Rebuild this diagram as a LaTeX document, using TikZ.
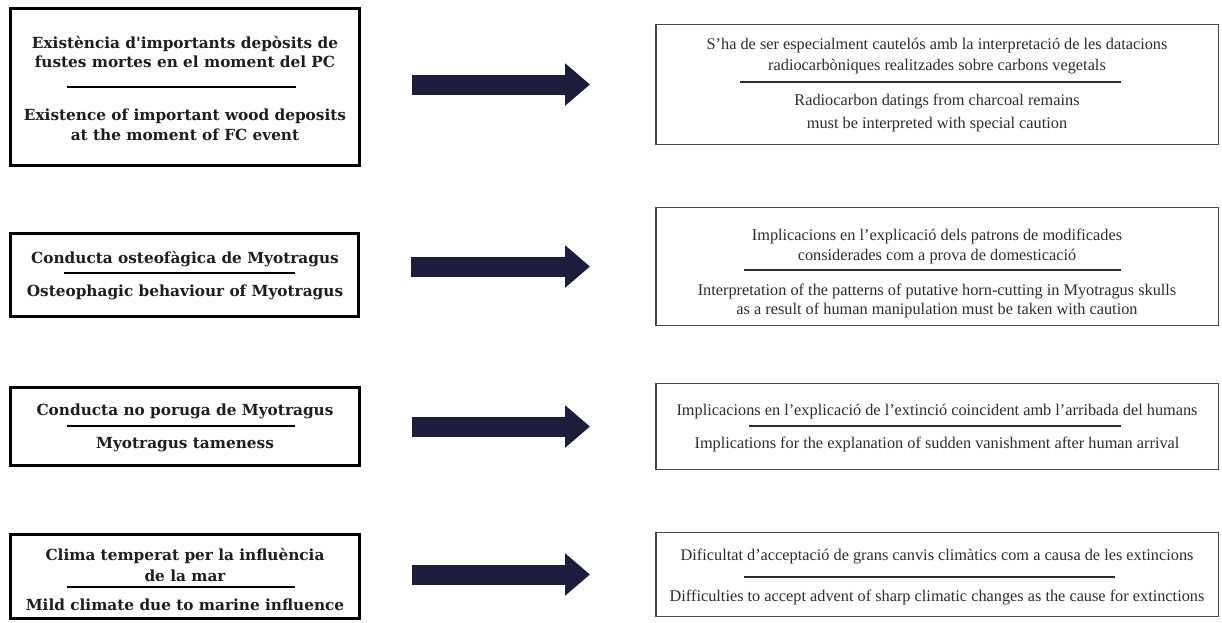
\documentclass[tikz,border=0pt]{standalone}
\usepackage{fontspec}
\setmainfont{Liberation Serif}
\newfontfamily\leftfont{DejaVu Serif}
\usetikzlibrary{arrows.meta}
\definecolor{arrowc}{RGB}{28,28,60}
\definecolor{ltext}{RGB}{30,30,30}
\definecolor{rtext}{RGB}{45,45,45}
\definecolor{rborder}{RGB}{70,70,70}
\tikzset{
  lbox/.style={draw=black, line width=3pt, rectangle, inner sep=0pt},
  rbox/.style={draw=rborder, line width=1.5pt, rectangle, inner sep=0pt},
  ltxt/.style={anchor=base, inner sep=0pt, text=ltext, font=\leftfont\bfseries\fontsize{15.3}{18}\selectfont},
  rtxt/.style={anchor=base, inner sep=0pt, text=rtext, font=\fontsize{16.3}{19}\selectfont},
  lrule/.style={line width=2.6pt, black},
  rrule/.style={line width=1.2pt, rtext},
  bigarrow/.style={draw=arrowc, line width=20pt, -{Triangle[width=41pt,length=25pt,fill=arrowc]}, shorten <=51pt, shorten >=65pt}
}
\begin{document}
\begin{tikzpicture}[x=1pt,y=-1pt]
\useasboundingbox[fill=white] (0,0) rectangle (1222,622);
% left boxes
\node[lbox, minimum width=349pt, minimum height=157pt] (L1) at (185,87) {};
\node[lbox, minimum width=348pt, minimum height=83pt] (L2) at (184.5,275) {};
\node[lbox, minimum width=349pt, minimum height=78pt] (L3) at (185,426.5) {};
\node[lbox, minimum width=349pt, minimum height=84pt] (L4) at (185,576.5) {};
% right boxes
\node[rbox, minimum width=562.5pt, minimum height=120pt] (R1) at (937,84.5) {};
\node[rbox, minimum width=562.5pt, minimum height=118pt] (R2) at (937,266.5) {};
\node[rbox, minimum width=562.5pt, minimum height=86pt] (R3) at (937,426.5) {};
\node[rbox, minimum width=562.5pt, minimum height=84pt] (R4) at (937,574.5) {};
% left texts
\node[ltxt] (L1a) at (185,48) {Existència d'importants depòsits de};
\node[ltxt] (L1b) at (185,67) {fustes mortes en el moment del PC};
\node[ltxt] (L1c) at (185,120) {Existence of important wood deposits};
\node[ltxt] (L1d) at (185,140) {at the moment of FC event};
\draw[lrule] (67,87) -- (296,87);
\node[ltxt] (L2a) at (185,263) {Conducta osteofàgica de Myotragus};
\node[ltxt] (L2b) at (185,296) {Osteophagic behaviour of Myotragus};
\draw[lrule] (64,273) -- (295,273);
\node[ltxt] (L3a) at (185,415) {Conducta no poruga de Myotragus};
\node[ltxt] (L3b) at (185,448) {Myotragus tameness};
\draw[lrule] (67,426) -- (295,426);
\node[ltxt] (L4a) at (185,560) {Clima temperat per la influència};
\node[ltxt] (L4b) at (185,581) {de la mar};
\node[ltxt] (L4c) at (185,610) {Mild climate due to marine influence};
\draw[lrule] (67,587) -- (295,587);
% right texts
\node[rtxt] (R1a) at (937,49) {S'ha de ser especialment cautelós amb la interpretació de les datacions};
\node[rtxt] (R1b) at (937,70) {radiocarbòniques realitzades sobre carbons vegetals};
\node[rtxt] (R1c) at (937,105) {Radiocarbon datings from charcoal remains};
\node[rtxt] (R1d) at (937,128) {must be interpreted with special caution};
\draw[rrule] (740,82) -- (1121,82);
\node[rtxt] (R2a) at (937,240) {Implicacions en l'explicació dels patrons de modificades};
\node[rtxt] (R2b) at (937,260) {considerades com a prova de domesticació};
\node[rtxt] (R2c) at (937,295) {Interpretation of the patterns of putative horn-cutting in Myotragus skulls};
\node[rtxt] (R2d) at (937,314) {as a result of human manipulation must be taken with caution};
\draw[rrule] (744,270) -- (1121,270);
\node[rtxt] (R3a) at (937,415) {Implicacions en l'explicació de l'extinció coincident amb l'arribada del humans};
\node[rtxt] (R3b) at (937,448) {Implications for the explanation of sudden vanishment after human arrival};
\draw[rrule] (749,426) -- (1121,426);
\node[rtxt] (R4a) at (937,560) {Dificultat d'acceptació de grans canvis climàtics com a causa de les extincions};
\node[rtxt] (R4b) at (937,601) {Difficulties to accept advent of sharp climatic changes as the cause for extinctions};
\draw[rrule] (744,577) -- (1115,577);
% arrows
\draw[bigarrow] (L1.east |- R1.west) -- (R1.west);
\draw[bigarrow] (L2.east |- R2.west) -- (R2.west);
\draw[bigarrow] (L3.east |- R3.west) -- (R3.west);
\draw[bigarrow] (L4.east |- R4.west) -- (R4.west);
\end{tikzpicture}
\end{document}
